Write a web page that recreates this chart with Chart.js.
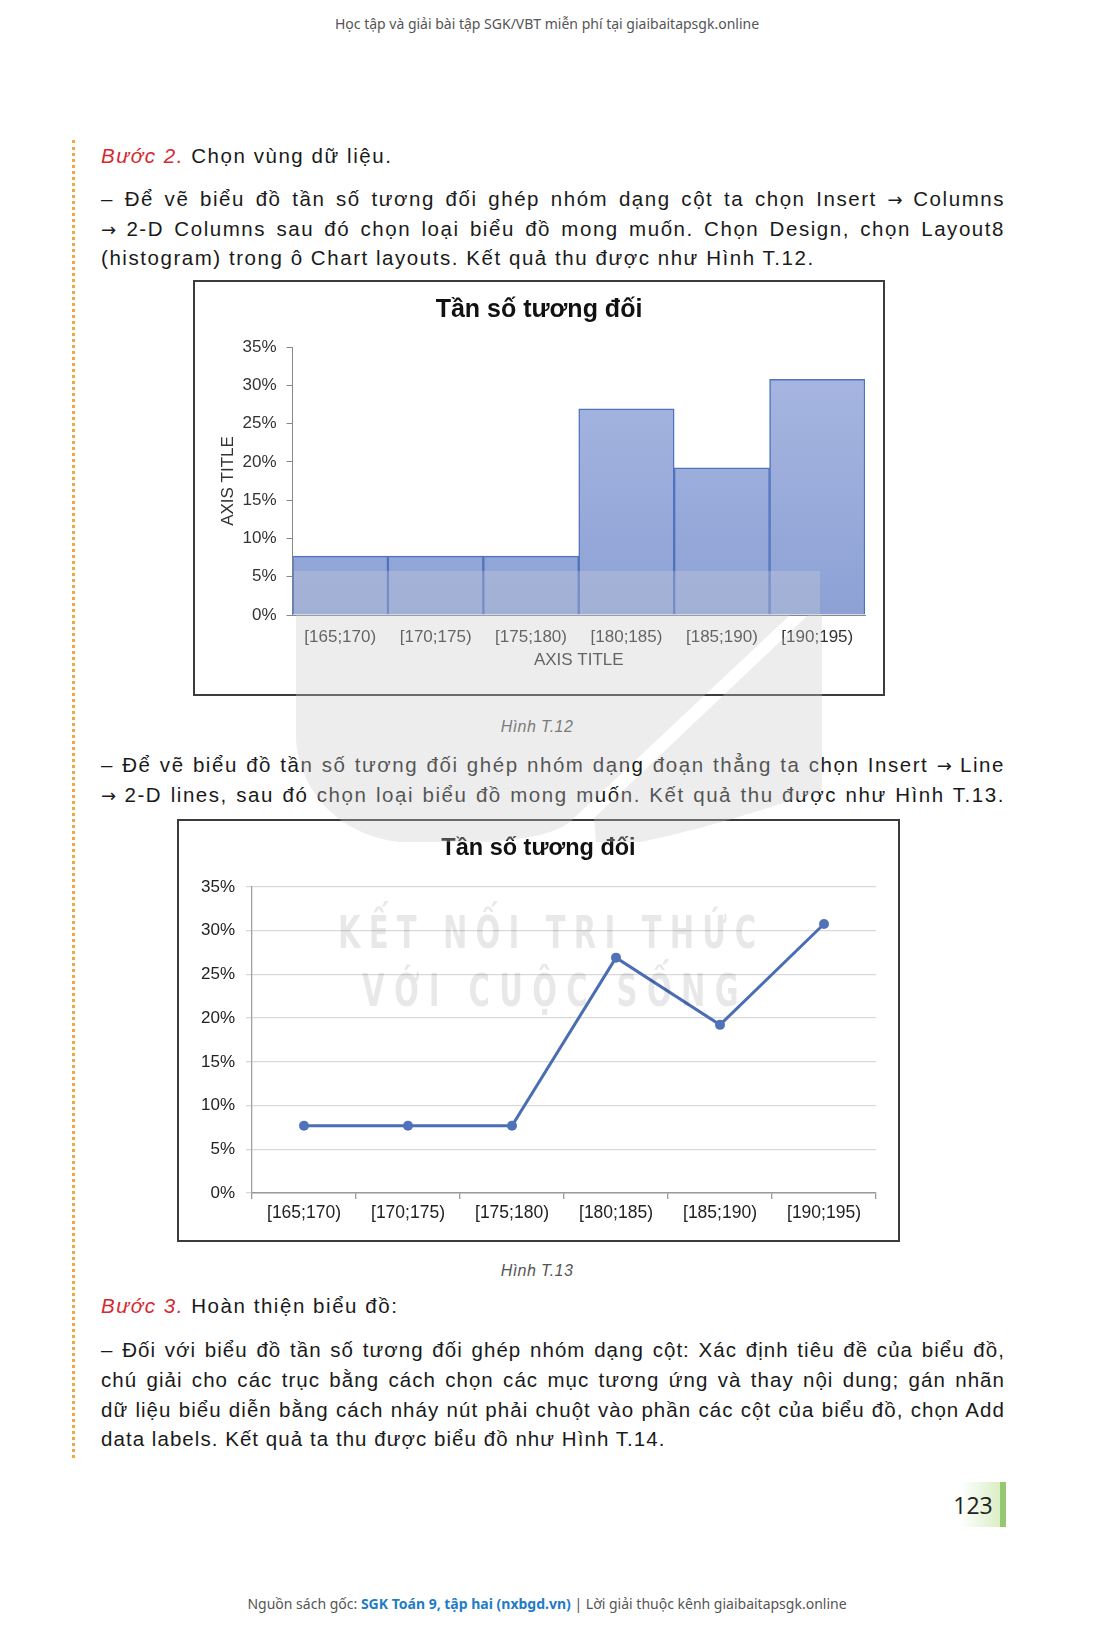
<!DOCTYPE html>
<html lang="vi">
<head>
<meta charset="utf-8">
<script src="https://cdn.jsdelivr.net/npm/chart.js@4"></script>
<style>
  html, body { margin:0; padding:0; background:#fff; }
  body { width:1094px; height:1626px; position:relative; overflow:hidden; font-family:"Liberation Sans", Arial, sans-serif; color:#1a1a1a; }
  .abs { position:absolute; }
  .hdr { left:0; width:1094px; text-align:center; font-family:"Noto Sans", sans-serif; font-size:14px; color:#555; line-height:20px; }
  .line { position:absolute; left:101px; width:904px; font-size:20.5px; letter-spacing:1.55px; line-height:30px; white-space:nowrap; color:#1a1a1a; }
  .tight { letter-spacing:1.05px; }
  .j { text-align:justify; text-align-last:justify; }
  .arr { font-family:"DejaVu Sans", sans-serif; font-size:18px; letter-spacing:0; }
  .red { color:#d42a32; font-style:italic; }
  .cap { position:absolute; left:0; width:1074px; text-align:center; font-style:italic; font-size:16px; color:#555; letter-spacing:0.4px; line-height:20px; }
  .box { position:absolute; border:2px solid #3c3c3c; box-sizing:border-box; background:transparent; }
  .dots { position:absolute; left:72px; top:140px; height:1318px; border-left:3px dotted #f3a642; }
  .wm { position:absolute; pointer-events:none; }
  .wmtext { position:absolute; font-family:"DejaVu Sans Condensed","DejaVu Sans",sans-serif; font-weight:bold; font-size:45px; line-height:45px; color:rgba(0,0,0,0.09); white-space:nowrap; transform-origin:0 0; transform:scaleX(0.72); pointer-events:none; }
</style>
</head>
<body>
<div class="abs hdr" style="top:14px;">Học tập và giải bài tập SGK/VBT miễn phí tại giaibaitapsgk.online</div>
<div class="dots"></div>

<div class="line" style="top:141px;"><span class="red">Bước 2.</span> Chọn vùng dữ liệu.</div>
<div class="line j" style="top:184px;">– Để vẽ biểu đồ tần số tương đối ghép nhóm dạng cột ta chọn Insert <span class="arr">→</span> Columns</div>
<div class="line j" style="top:214px;"><span class="arr">→</span> 2-D Columns sau đó chọn loại biểu đồ mong muốn. Chọn Design, chọn Layout8</div>
<div class="line" style="top:243px;">(histogram) trong ô Chart layouts. Kết quả thu được như Hình T.12.</div>

<div class="box" style="left:193px; top:280px; width:692px; height:416px;">
  <div style="position:absolute; left:0; top:0; width:688px; height:412px;"><canvas id="histChart"></canvas></div>
</div>
<div class="cap" style="top:717px;">Hình T.12</div>

<div class="line j" style="top:750px;">– Để vẽ biểu đồ tần số tương đối ghép nhóm dạng đoạn thẳng ta chọn Insert <span class="arr">→</span> Line</div>
<div class="line j" style="top:780px;"><span class="arr">→</span> 2-D lines, sau đó chọn loại biểu đồ mong muốn. Kết quả thu được như Hình T.13.</div>

<div class="box" style="left:177px; top:819px; width:723px; height:423px;">
  <div style="position:absolute; left:0; top:0; width:719px; height:419px;"><canvas id="lineChart"></canvas></div>
</div>
<div class="cap" style="top:1261px;">Hình T.13</div>

<div class="line" style="top:1291px;"><span class="red">Bước 3.</span> Hoàn thiện biểu đồ:</div>
<div class="line j tight" style="top:1335px;">– Đối với biểu đồ tần số tương đối ghép nhóm dạng cột: Xác định tiêu đề của biểu đồ,</div>
<div class="line j tight" style="top:1365px;">chú giải cho các trục bằng cách chọn các mục tương ứng và thay nội dung; gán nhãn</div>
<div class="line j tight" style="top:1395px;">dữ liệu biểu diễn bằng cách nháy nút phải chuột vào phần các cột của biểu đồ, chọn Add</div>
<div class="line tight" style="top:1424px;">data labels. Kết quả ta thu được biểu đồ như Hình T.14.</div>

<div class="abs" style="left:960px; top:1482px; width:41px; height:45px; background:linear-gradient(to right, rgba(220,238,200,0), rgba(214,236,190,0.9));"></div>
<div class="abs" style="left:1000px; top:1482px; width:6px; height:45px; background:#95c96f;"></div>
<div class="abs" style="left:940px; top:1490px; width:66px; text-align:center; font-family:'Open Sans','Noto Sans',sans-serif; font-size:23px; line-height:30px; color:#222;">123</div>

<div class="abs hdr" style="top:1594px;">Nguồn sách gốc: <b style="color:#1f7cc6;">SGK Toán 9, tập hai (nxbgd.vn)</b> | Lời giải thuộc kênh giaibaitapsgk.online</div>

<!-- watermark -->
<svg class="wm" style="left:0; top:0;" width="1094" height="1626">
  <rect x="294" y="571" width="526" height="44" fill="rgba(215,215,215,0.28)"/>
  <path d="M296 615 L790 615 L574 818 C560 834 520 842 470 842 L400 842 C340 836 300 792 296 740 Z" fill="rgba(200,200,200,0.33)"/>
  <path d="M808 615 L822 615 L822 790 C780 805 700 830 640 842 L596 842 L594 818 Z" fill="rgba(200,200,200,0.33)"/>
</svg>
<div class="wmtext" style="left:338px; top:910px; letter-spacing:11.3px;">KẾT NỐI TRI THỨC</div>
<div class="wmtext" style="left:362px; top:968px; letter-spacing:13px;">VỚI CUỘC SỐNG</div>

<script>
const categories = ['[165;170)', '[170;175)', '[175;180)', '[180;185)', '[185;190)', '[190;195)'];
const relativeFrequency = [7.69, 7.69, 7.69, 26.92, 19.23, 30.77];
const chartTitle = 'Tần số tương đối';
const axisTitleX = 'AXIS TITLE';
const axisTitleY = 'AXIS TITLE';
const yMax = 35;
const yStep = 5;

const FONT = '"Liberation Sans", Arial, sans-serif';
Chart.defaults.font.family = FONT;
Chart.defaults.color = '#333';

function barGradient(ctx) {
  const ch = ctx.chart;
  const a = ch.chartArea;
  if (!a) return '#9caedc';
  const g = ch.ctx.createLinearGradient(0, a.top, 0, a.bottom);
  g.addColorStop(0, '#a9b8e2');
  g.addColorStop(1, '#8da1d5');
  return g;
}

function spacerAxis(w) {
  return {
    position: 'right', display: true,
    grid: { display: false, drawTicks: false },
    border: { display: false },
    ticks: { display: false },
    afterFit: s => { s.width = w; }
  };
}

new Chart(document.getElementById('histChart'), {
  type: 'bar',
  data: {
    labels: categories,
    datasets: [{
      data: relativeFrequency,
      backgroundColor: barGradient,
      borderColor: '#4f73bd',
      borderWidth: 1.5,
      barPercentage: 1,
      categoryPercentage: 1
    }]
  },
  options: {
    responsive: true,
    maintainAspectRatio: false,
    animation: false,
    layout: { padding: { left: 0, right: 0, top: 0, bottom: 21 } },
    plugins: {
      legend: { display: false },
      tooltip: { enabled: false },
      title: { display: true, text: chartTitle, color: '#111', font: { size: 25, weight: 'bold' }, padding: { top: 13, bottom: 22 } }
    },
    scales: {
      x: {
        offset: true,
        grid: { display: false, drawTicks: false },
        border: { display: true, color: '#888' },
        ticks: { color: '#333', font: { size: 17 }, padding: 11.8 },
        title: { display: true, text: axisTitleX, color: '#333', font: { size: 17 }, padding: { top: 0, bottom: 2.8 } },
        afterFit: s => { s.height = 58; }
      },
      y: {
        min: 0, max: yMax,
        grid: { display: true, drawOnChartArea: false, drawTicks: true, tickLength: 6, color: '#888' },
        border: { display: true, color: '#888' },
        ticks: { stepSize: yStep, color: '#333', font: { size: 17 }, padding: 10, callback: v => v + '%' },
        title: { display: true, text: axisTitleY, color: '#333', font: { size: 17 }, padding: { top: 22.8, bottom: 0 } },
        afterFit: s => { s.width = 97.5; }
      },
      pad: spacerAxis(18)
    }
  }
});

new Chart(document.getElementById('lineChart'), {
  type: 'line',
  data: {
    labels: categories,
    datasets: [{
      data: relativeFrequency,
      borderColor: '#4a6db3',
      backgroundColor: '#4a6db3',
      borderWidth: 3,
      pointRadius: 5,
      pointBorderWidth: 0,
      pointBackgroundColor: '#4f72b8',
      tension: 0,
      fill: false
    }]
  },
  options: {
    responsive: true,
    maintainAspectRatio: false,
    animation: false,
    layout: { padding: { left: 0, right: 0, top: 0, bottom: 7 } },
    plugins: {
      legend: { display: false },
      tooltip: { enabled: false },
      title: { display: true, text: chartTitle, color: '#111', font: { size: 23.5, weight: 'bold' }, padding: { top: 13.9, bottom: 23.9 } }
    },
    scales: {
      x: {
        offset: true,
        grid: { offset: true, display: true, drawOnChartArea: false, drawTicks: true, tickLength: 6, color: '#999', lineWidth: 1.3 },
        border: { display: true, color: '#999', width: 1.5 },
        ticks: { color: '#222', font: { size: 17.5 }, padding: 3.5 },
        afterFit: s => { s.height = 40; }
      },
      y: {
        min: 0, max: yMax,
        grid: { display: true, drawOnChartArea: true, drawTicks: true, tickLength: 6, color: '#d9d9d9', lineWidth: 1.3 },
        border: { display: true, color: '#a0a0a0', width: 1.3 },
        ticks: { stepSize: yStep, color: '#222', font: { size: 17 }, padding: 11, callback: v => v + '%' },
        afterFit: s => { s.width = 73; }
      },
      pad: spacerAxis(22)
    }
  }
});
</script>
</body>
</html>
